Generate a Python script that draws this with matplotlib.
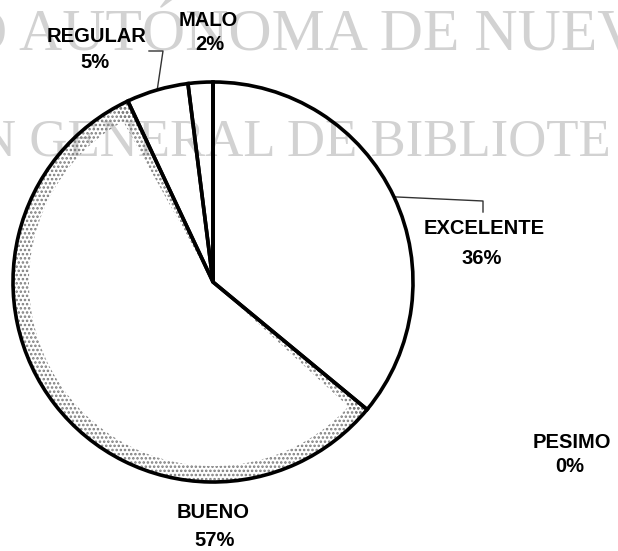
import matplotlib
matplotlib.use("Agg")
import matplotlib.pyplot as plt
from matplotlib.patches import Wedge
import numpy as np

# data
categories = ["EXCELENTE", "BUENO", "REGULAR", "MALO", "PESIMO"]
values = [36, 57, 5, 2, 0]

# label centres in image pixels (x, y from top): name line, percent line
label_pos = {
    "EXCELENTE": ((484, 229), (482, 258)),
    "BUENO": ((213, 513), (215, 541)),
    "REGULAR": ((97, 36), (95, 62)),
    "MALO": ((208, 20), (210, 45)),
    "PESIMO": ((572, 443), (570, 467)),
}
# elbow leader lines: label end of the line (x, y from top)
leader_end = {
    "REGULAR": [(163, 51), (149, 51)],
    "EXCELENTE": [(483, 201), (483, 212)],
}

W, H = 618, 551
cx, cy, R = 213, H - 282, 200

fig = plt.figure(figsize=(W / 100, H / 100), dpi=100)
ax = fig.add_axes([0, 0, 1, 1])

# light serif watermark from the scan
ax.text(-36, H - 50, "O AUTÓNOMA DE NUEVO", fontsize=43, family="Liberation Serif",
        color="#d2d2d2", ha="left", va="baseline", zorder=0)
ax.text(611, H - 155, "N GENERAL DE BIBLIOTE", fontsize=38, family="Liberation Serif",
        color="#d2d2d2", ha="right", va="baseline", zorder=0)

# stippled shading along the edge of the BUENO slice
total = sum(values)
angles = 90 - 360 * np.cumsum([0] + values) / total
b = categories.index("BUENO")
a_end, a_start = angles[b], angles[b + 1]
plt.rcParams["hatch.linewidth"] = 1.2
shade = dict(facecolor="none", edgecolor="#7a7a7a", hatch="....", linewidth=0, zorder=1)
ax.add_patch(Wedge((cx, cy), R, a_start, a_end, width=16, **shade))
ax.add_patch(Wedge((cx, cy), R, a_start, a_start + 4, **shade))
ax.add_patch(Wedge((cx, cy), R, a_end - 3, a_end, **shade))

ax.pie(values, startangle=90, counterclock=False, center=(cx, cy), radius=R,
       colors=["none"] * len(values),
       wedgeprops=dict(edgecolor="black", linewidth=2.6, zorder=3))

# leader lines start at the middle of their slice on the rim
for name, pts in leader_end.items():
    i = categories.index(name)
    mid = np.radians((angles[i] + angles[i + 1]) / 2)
    xs = [cx + R * np.cos(mid)] + [p[0] for p in pts]
    ys = [cy + R * np.sin(mid)] + [H - p[1] for p in pts]
    ax.plot(xs, ys, color="#333333", linewidth=1.0, zorder=2)

for name, v in zip(categories, values):
    (nx, ny), (px, py) = label_pos[name]
    ax.text(nx, H - ny, name, fontsize=14.5, fontweight="bold",
            family=["Liberation Sans", "DejaVu Sans"], ha="center", va="center", zorder=4)
    ax.text(px, H - py, f"{v}%", fontsize=14.5, fontweight="bold",
            family=["Liberation Sans", "DejaVu Sans"], ha="center", va="center", zorder=4)

ax.set_xlim(0, W)
ax.set_ylim(0, H)
ax.set_aspect("equal")
ax.axis("off")

fig.savefig("out.png", dpi=100)
